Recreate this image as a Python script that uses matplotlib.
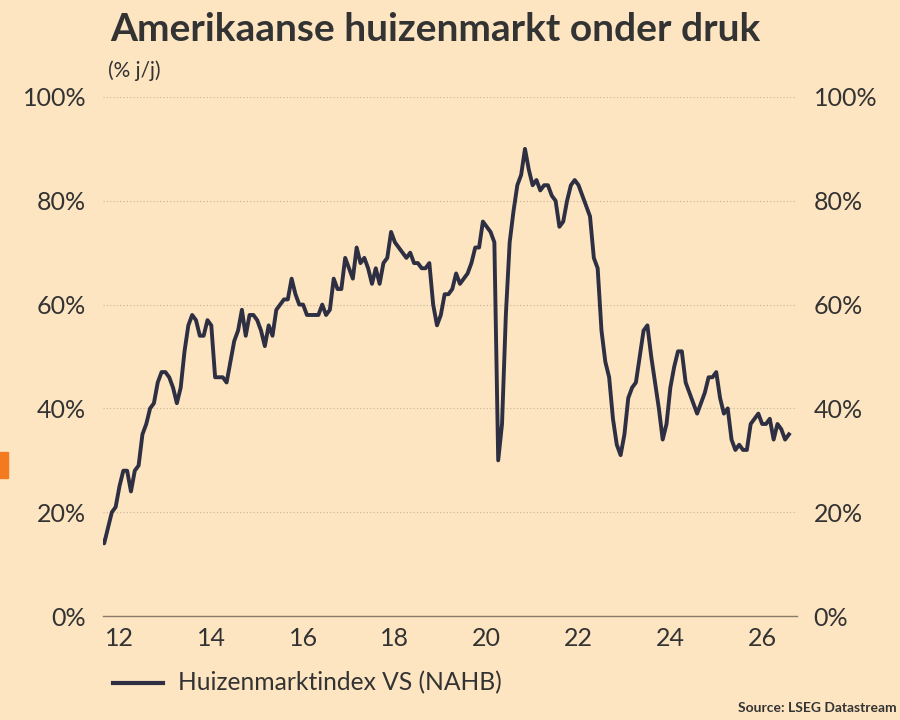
import matplotlib
matplotlib.use('Agg')
import matplotlib.pyplot as plt
import numpy as np
from matplotlib.patches import Rectangle
from matplotlib.lines import Line2D

# Data: NAHB housing market index, monthly, Aug 2011 - Aug 2026
start_year = 2011
start_month = 8
values = [
    15, 14, 17, 20, 21,                               # 2011 (Aug-Dec)
    25, 28, 28, 24, 28, 29, 35, 37, 40, 41, 45, 47,   # 2012
    47, 46, 44, 41, 44, 51, 56, 58, 57, 54, 54, 57,   # 2013
    56, 46, 46, 46, 45, 49, 53, 55, 59, 54, 58, 58,   # 2014
    57, 55, 52, 56, 54, 59, 60, 61, 61, 65, 62, 60,   # 2015
    60, 58, 58, 58, 58, 60, 58, 59, 65, 63, 63, 69,   # 2016
    67, 65, 71, 68, 69, 67, 64, 67, 64, 68, 69, 74,   # 2017
    72, 71, 70, 69, 70, 68, 68, 67, 67, 68, 60, 56,   # 2018
    58, 62, 62, 63, 66, 64, 65, 66, 68, 71, 71, 76,   # 2019
    75, 74, 72, 30, 37, 58, 72, 78, 83, 85, 90, 86,   # 2020
    83, 84, 82, 83, 83, 81, 80, 75, 76, 80, 83, 84,   # 2021
    83, 81, 79, 77, 69, 67, 55, 49, 46, 38, 33, 31,   # 2022
    35, 42, 44, 45, 50, 55, 56, 50, 45, 40, 34, 37,   # 2023
    44, 48, 51, 51, 45, 43, 41, 39, 41, 43, 46, 46,   # 2024
    47, 42, 39, 40, 34, 32, 33, 32, 32, 37, 38, 39,   # 2025
    37, 37, 38, 34, 37, 36, 34, 35,                   # 2026 (Jan-Aug)
]
years = [start_year + (start_month - 1 + i) / 12 for i in range(len(values))]

year_ticks = [2012, 2014, 2016, 2018, 2020, 2022, 2024, 2026]
year_labels = ['12', '14', '16', '18', '20', '22', '24', '26']
pct_ticks = [0, 20, 40, 60, 80, 100]
pct_labels = ['0%', '20%', '40%', '60%', '80%', '100%']

title = 'Amerikaanse huizenmarkt onder druk'
subtitle = '(% j/j)'
series_name = 'Huizenmarktindex VS (NAHB)'
source = 'Source: LSEG Datastream'

bg = '#FDE5C1'
ink = '#333333'
line_col = '#2E2F42'

plt.rcParams['font.family'] = ['Lato', 'DejaVu Sans']

fig = plt.figure(figsize=(9, 7.2), dpi=100, facecolor=bg)
ax = fig.add_axes([0.1144, 0.1444, 0.7712, 0.7209], facecolor=bg)

ax.plot(years, values, color=line_col, lw=2.8, solid_joinstyle='round', zorder=3)

ax.set_xlim(2011.64, 2026.76)
ax.set_ylim(0, 100)
ax.set_yticks(pct_ticks)
ax.set_yticklabels(pct_labels)
ax.set_xticks(year_ticks)
ax.set_xticklabels(year_labels)

for s in ['top', 'left', 'right']:
    ax.spines[s].set_visible(False)
ax.spines['bottom'].set_color('#8a7b68')
ax.spines['bottom'].set_linewidth(1.0)

ax.grid(axis='y', color='#c4b39a', linestyle=(0, (1, 2)), linewidth=0.8)
ax.tick_params(axis='x', length=0, pad=8, labelsize=18, labelcolor=ink)
ax.tick_params(axis='y', length=0, pad=12, labelsize=18, labelcolor=ink,
               labelright=True, labelleft=True)

fig.text(110 / 900, 1 - 41 / 720, title, fontsize=28, fontweight='bold',
         color=ink, ha='left', va='baseline')
fig.text(108 / 900, 1 - 77 / 720, subtitle, fontsize=15, color=ink,
         ha='left', va='baseline')

# legend
fig.add_artist(Line2D([113 / 900, 163 / 900], [1 - 683 / 720, 1 - 683 / 720],
                      color=line_col, lw=3, transform=fig.transFigure))
fig.text(178 / 900, 1 - 690 / 720, series_name, fontsize=17.7, color=ink,
         ha='left', va='baseline')
fig.text(897 / 900, 1 - 712 / 720, source, fontsize=10, color=ink,
         ha='right', va='baseline', fontweight='bold')

# small orange tab at left edge
fig.add_artist(Rectangle((0, 1 - 478 / 720), 8 / 900, 26 / 720,
                         color='#F47A20', transform=fig.transFigure))

fig.savefig('out.png', dpi=100, facecolor=bg)
